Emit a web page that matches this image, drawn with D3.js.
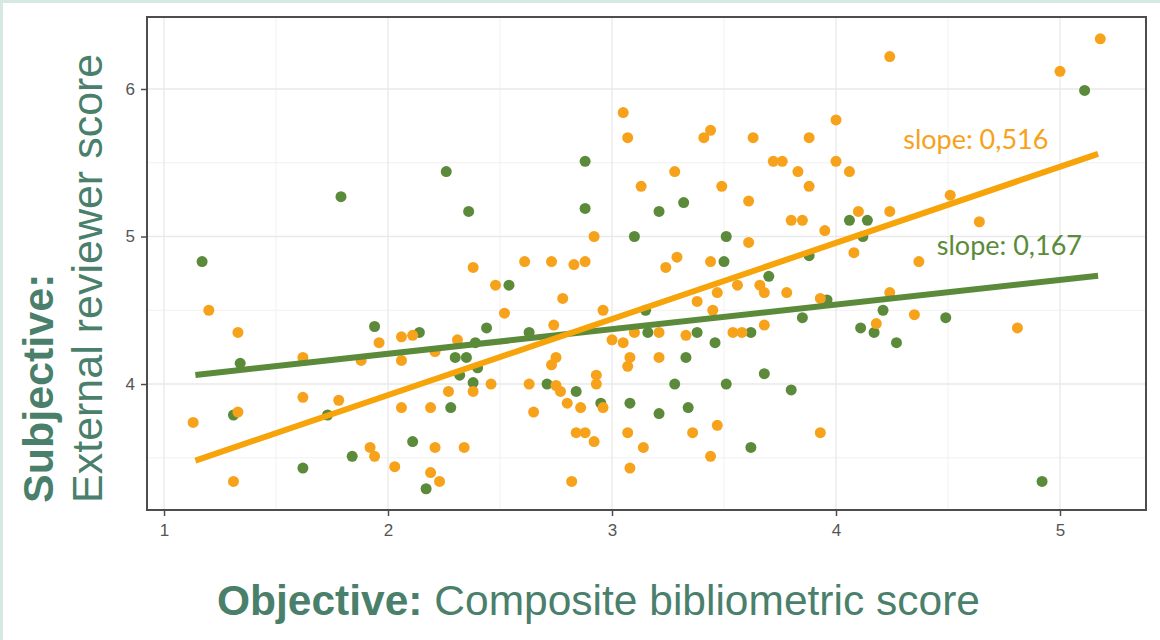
<!DOCTYPE html>
<html><head><meta charset="utf-8">
<script src="https://cdn.jsdelivr.net/npm/d3@7"></script>
<style>html,body{margin:0;padding:0;background:#fff;}svg{display:block;}</style>
</head><body>
<svg id="chart" width="1160" height="640"></svg>
<script>
// ---- data ----
const orangeX = [1.13,1.20,1.33,1.33,1.31,1.62,1.62,1.78,1.88,1.92,1.94,1.96,2.03,2.06,2.11,2.06,2.06,2.19,2.21,2.21,2.19,2.23,2.27,2.31,2.34,2.38,2.38,2.48,2.52,2.46,2.63,2.65,2.61,2.73,2.83,2.88,2.78,2.74,2.75,2.73,2.75,2.77,2.80,2.86,2.84,2.88,2.92,2.82,2.92,2.93,2.93,2.96,2.96,3.00,3.05,3.10,3.05,3.07,3.13,3.28,3.07,3.08,3.08,3.07,3.14,3.21,3.21,3.24,3.29,3.33,3.36,3.38,3.41,3.44,3.44,3.44,3.45,3.47,3.47,3.49,3.54,3.58,3.56,3.61,3.61,3.63,3.66,3.68,3.68,3.72,3.76,3.78,3.80,3.83,3.85,3.88,3.88,4.00,4.00,4.06,3.93,3.95,4.08,4.10,4.24,4.24,4.24,4.18,4.35,4.37,4.51,4.64,4.81,5.00,5.18,3.93];
const orangeY = [3.74,4.50,4.35,3.81,3.34,4.18,3.91,3.89,4.16,3.57,3.51,4.28,3.44,4.32,4.33,4.16,3.84,3.84,4.22,3.57,3.40,3.34,3.95,4.30,3.57,3.95,4.79,4.67,4.48,4.00,4.00,3.81,4.83,4.83,4.81,4.83,4.58,4.40,4.18,4.13,3.99,3.95,3.87,3.84,3.67,3.67,3.61,3.34,5.00,4.06,4.00,4.50,3.84,4.30,4.28,4.35,5.84,5.67,5.34,5.44,3.67,3.43,4.18,4.12,3.57,4.18,4.35,4.79,4.86,4.33,3.67,4.56,5.67,5.72,4.83,3.51,4.50,4.62,3.72,5.34,4.35,4.35,4.67,4.96,5.24,5.67,4.67,4.62,4.40,5.51,5.51,4.62,5.11,5.44,5.11,5.34,5.67,5.79,5.51,5.44,4.58,5.04,4.89,5.17,5.17,6.22,4.62,4.41,4.47,4.83,5.28,5.10,4.38,6.12,6.34,3.67];
const greenX = [1.17,1.34,1.31,1.62,1.73,1.79,1.84,1.94,2.11,2.14,2.17,2.26,2.28,2.30,2.35,2.32,2.38,2.39,2.36,2.44,2.54,2.63,2.71,2.84,2.88,2.88,2.95,3.08,3.10,3.15,3.16,3.21,3.21,3.28,3.32,3.33,3.34,3.38,3.46,3.50,3.51,3.51,3.62,3.62,3.68,3.70,3.80,3.85,3.88,3.96,4.06,4.14,4.12,4.11,4.17,4.21,4.27,4.49,4.92,5.11,2.40];
const greenY = [4.83,4.14,3.79,3.43,3.79,5.27,3.51,4.39,3.61,4.35,3.29,5.44,3.84,4.18,4.18,4.06,4.01,4.28,5.17,4.38,4.67,4.35,4.00,3.95,5.51,5.19,3.87,3.87,5.00,4.50,4.35,5.17,3.80,4.00,5.23,4.18,3.84,4.35,4.28,4.83,5.00,4.00,3.57,4.35,4.07,4.73,3.96,4.45,4.87,4.57,5.11,5.11,5.00,4.38,4.35,4.50,4.28,4.45,3.34,5.99,4.11];
const fitSlopes = [0.516, 0.167];        // orange, green
const fitIntercepts = [2.893, 3.871];
const fitRange = [1.14, 5.17];
const slopeLabels = ["slope: 0,516", "slope: 0,167"];
const labelPos = [[4.30, 5.59], [4.45, 4.875]];
const xTicks = [1, 2, 3, 4, 5];
const yTicks = [4, 5, 6];
const xMinor = [1.5, 2.5, 3.5, 4.5];
const yMinor = [3.5, 4.5, 5.5];
const xDomain = [0.924, 5.384];
const yDomain = [3.146, 6.488];

// ---- styles ----
const ORANGE = "#F7A21B", ORANGE_LINE = "#F7A30A", GREEN = "#5B8B3A";
const TITLE = "#4A7F6B";
const L = 147, R = 1146, T = 17, B = 510;

const svg = d3.select("#chart");
svg.append("rect").attr("width",1160).attr("height",640).attr("fill","#fff");
svg.append("rect").attr("x",0).attr("y",0).attr("width",1160).attr("height",3).attr("fill","#d5e8e1");
svg.append("rect").attr("x",0).attr("y",0).attr("width",3).attr("height",640).attr("fill","#d5e8e1");

const x = d3.scaleLinear().domain(xDomain).range([L, R]);
const y = d3.scaleLinear().domain(yDomain).range([B, T]);

// grids
const grid = svg.append("g");
grid.selectAll(".xm").data(xMinor).join("line")
  .attr("x1",d=>x(d)).attr("x2",d=>x(d)).attr("y1",T).attr("y2",B)
  .attr("stroke","#f1f1f1").attr("stroke-width",1);
grid.selectAll(".ym").data(yMinor).join("line")
  .attr("y1",d=>y(d)).attr("y2",d=>y(d)).attr("x1",L).attr("x2",R)
  .attr("stroke","#f1f1f1").attr("stroke-width",1);
grid.selectAll(".xg").data(xTicks).join("line")
  .attr("x1",d=>x(d)).attr("x2",d=>x(d)).attr("y1",T).attr("y2",B)
  .attr("stroke","#e9e9e9").attr("stroke-width",1.3);
grid.selectAll(".yg").data(yTicks).join("line")
  .attr("y1",d=>y(d)).attr("y2",d=>y(d)).attr("x1",L).attr("x2",R)
  .attr("stroke","#e9e9e9").attr("stroke-width",1.3);

// points
const gData = greenX.map((v,i)=>({x:v,y:greenY[i]}));
const oData = orangeX.map((v,i)=>({x:v,y:orangeY[i]}));
svg.append("g").selectAll("circle").data(gData).join("circle")
  .attr("cx",d=>x(d.x)).attr("cy",d=>y(d.y)).attr("r",5.5).attr("fill",GREEN);
svg.append("g").selectAll("circle").data(oData).join("circle")
  .attr("cx",d=>x(d.x)).attr("cy",d=>y(d.y)).attr("r",5.5).attr("fill",ORANGE);

// fit lines
const lineColors = [ORANGE_LINE, GREEN];
[1,0].forEach(i=>{
  const pts = fitRange.map(v=>[v, fitIntercepts[i] + fitSlopes[i]*v]);
  svg.append("path").attr("d", d3.line().x(d=>x(d[0])).y(d=>y(d[1]))(pts))
    .attr("stroke", lineColors[i]).attr("stroke-width",6).attr("fill","none");
});

// panel border
svg.append("rect").attr("x",L).attr("y",T).attr("width",R-L).attr("height",B-T)
  .attr("fill","none").attr("stroke","#4d4d4d").attr("stroke-width",2);

// axes
const xAxis = svg.append("g").attr("transform",`translate(0,${B})`)
  .call(d3.axisBottom(x).tickValues(xTicks).tickSize(6).tickPadding(8).tickFormat(d3.format("d")));
const yAxis = svg.append("g").attr("transform",`translate(${L},0)`)
  .call(d3.axisLeft(y).tickValues(yTicks).tickSize(6).tickPadding(6).tickFormat(d3.format("d")));
[xAxis,yAxis].forEach(a=>{
  a.select(".domain").remove();
  a.selectAll("line").attr("stroke","#4d4d4d").attr("stroke-width",1.5);
  a.selectAll("text").attr("fill","#555").style("font-family","Liberation Sans, Arial, sans-serif").style("font-size","17px");
});

// slope labels
const labColors = [ORANGE, GREEN];
slopeLabels.forEach((t,i)=>{
  svg.append("text").attr("x",x(labelPos[i][0])).attr("y",y(labelPos[i][1]))
    .attr("fill",labColors[i]).style("font-family","Lato, 'Open Sans', sans-serif")
    .style("font-size","27px").text(t);
});

// axis titles
const xt = svg.append("text").attr("x",217).attr("y",615)
  .style("font-family","Liberation Sans, Arial, sans-serif").style("font-size","42.5px").attr("fill",TITLE);
xt.append("tspan").attr("font-weight","bold").text("Objective:");
xt.append("tspan").text(" Composite bibliometric score");

const yt1 = svg.append("text").attr("transform","translate(53,503) rotate(-90)")
  .style("font-family","Liberation Sans, Arial, sans-serif").style("font-size","43px")
  .attr("fill",TITLE).attr("font-weight","bold").text("Subjective:");
const yt2 = svg.append("text").attr("transform","translate(102,503) rotate(-90)")
  .style("font-family","Liberation Sans, Arial, sans-serif").style("font-size","43px")
  .attr("fill",TITLE).text("External reviewer score");
</script>
</body></html>
